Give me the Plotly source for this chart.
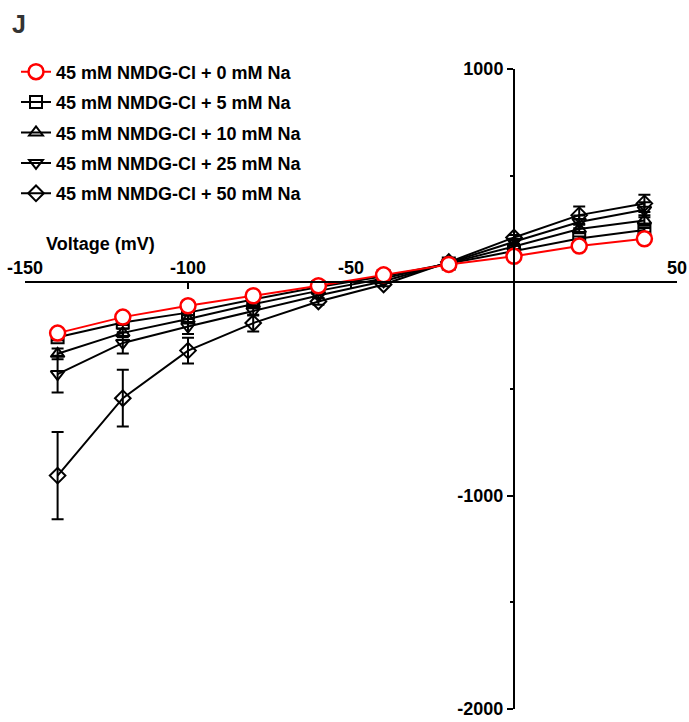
import plotly.graph_objects as go

voltage = [-140, -120, -100, -80, -60, -40, -20, 0, 20, 40]

labels = [
    "45 mM NMDG-Cl + 0 mM Na",
    "45 mM NMDG-Cl + 5 mM Na",
    "45 mM NMDG-Cl + 10 mM Na",
    "45 mM NMDG-Cl + 25 mM Na",
    "45 mM NMDG-Cl + 50 mM Na",
]

na0 = [-238, -163, -110, -63, -16, 35, 84, 122, 170, 204]
na5 = [-257, -188, -142, -80, -22, 28, 88, 145, 205, 245]
na10 = [-335, -237, -172, -102, -40, 18, 90, 168, 250, 290]
na25 = [-430, -284, -207, -135, -62, 5, 92, 190, 283, 340]
na50 = [-906, -543, -320, -191, -90, -10, 95, 210, 315, 370]

err0 = [12, 10, 10, 8, 8, 6, 6, 8, 8, 8]
err5 = [15, 12, 12, 10, 8, 6, 10, 10, 10, 10]
err10 = [25, 20, 18, 12, 10, 8, 8, 12, 20, 25]
err25 = [86, 50, 35, 20, 12, 8, 8, 12, 30, 35]
err50 = [205, 133, 60, 39, 15, 8, 10, 12, 40, 40]

x_ticks = [-150, -100, -50, 0, 50]
x_ticktext = ["-150", "-100", "-50", "", "50"]
y_ticks = [-2000, -1000, 0, 1000]
y_ticktext = ["-2000", "-1000", "", "1000"]
y_minor = [-1500, -500, 500]

FONT = "Liberation Sans, Arial, sans-serif"
W, H = 689, 722
# plot box in page pixels
PX_L, PX_R, PX_T, PX_B = 25, 677, 69, 709
XR = [-150, 50]
YR = [-2000, 1000]

x_dom = [PX_L / W, PX_R / W]
y_dom = [1 - PX_B / H, 1 - PX_T / H]
x_axis_pos = y_dom[0] + (0 - YR[0]) / (YR[1] - YR[0]) * (y_dom[1] - y_dom[0])
y_axis_pos = x_dom[0] + (0 - XR[0]) / (XR[1] - XR[0]) * (x_dom[1] - x_dom[0])

series = [
    (labels[1], na5, err5, "square-open", "black", 2),
    (labels[2], na10, err10, "triangle-up-open", "black", 3),
    (labels[3], na25, err25, "triangle-down-open", "black", 4),
    (labels[4], na50, err50, "diamond-open", "black", 5),
    (labels[0], na0, err0, "circle", "red", 1),
]

fig = go.Figure()
for name, vals, errs, sym, col, rank in series:
    is_red = col == "red"
    fig.add_trace(go.Scatter(
        x=voltage, y=vals, name=name, mode="lines+markers",
        legendrank=rank, legendgroup=name,
        line=dict(color=col, width=2),
        marker=dict(symbol=sym, size=15 if is_red else 12,
                    color="white" if is_red else col,
                    line=dict(color=col, width=2.5 if is_red else 2)),
        error_y=dict(type="data", array=errs, visible=True,
                     color="black", thickness=2, width=6),
        cliponaxis=False,
    ))

fig.update_layout(
    width=W, height=H,
    margin=dict(l=0, r=0, t=0, b=0, autoexpand=False),
    paper_bgcolor="white", plot_bgcolor="white",
    font=dict(family=FONT, size=18, color="black"),
    showlegend=True,
    legend=dict(
        x=16 / W, y=1 - 53.5 / H, xanchor="left", yanchor="top",
        font=dict(family=FONT, size=18, color="black", weight="bold"),
        bgcolor="rgba(0,0,0,0)", traceorder="grouped", tracegroupgap=4,
        itemwidth=30,
    ),
    xaxis=dict(
        range=XR, domain=x_dom, anchor="free", position=x_axis_pos, side="top",
        automargin=False, ticklabeloverflow="allow",
        showline=True, linecolor="black", linewidth=2,
        ticks="inside", ticklen=6, tickwidth=2, tickcolor="black",
        tickvals=x_ticks, ticktext=x_ticktext,
        tickfont=dict(family=FONT, size=18, color="black", weight="bold"),
        showgrid=False, zeroline=False,
    ),
    yaxis=dict(
        range=YR, domain=y_dom, anchor="free", position=y_axis_pos, side="left",
        automargin=False, ticklabeloverflow="allow",
        showline=True, linecolor="black", linewidth=2,
        ticks="outside", ticklen=6, tickwidth=2, tickcolor="black",
        tickvals=y_ticks, ticktext=y_ticktext,
        minor=dict(tickvals=y_minor, ticks="outside", ticklen=3,
                   tickwidth=2, tickcolor="black"),
        tickfont=dict(family=FONT, size=18, color="black", weight="bold"),
        showgrid=False, zeroline=False,
    ),
    annotations=[
        dict(text="<b>J</b>", xref="paper", yref="paper", x=10 / W,
             y=1 - 24 / H,
             xanchor="left", yanchor="middle", showarrow=False,
             font=dict(family=FONT, size=25, color="#333333")),
        dict(text="<b>Voltage (mV)</b>", xref="x", yref="y", x=-126.7, y=180,
             xanchor="center", yanchor="middle", showarrow=False,
             font=dict(family=FONT, size=18, color="black")),
        dict(text="<b>Current (nA)</b>", xref="x", yref="y", x=21.2, y=1034,
             xanchor="center", yanchor="middle", showarrow=False,
             font=dict(family=FONT, size=18, color="black")),
    ],
)

fig.write_html(
    "out.html",
    config={"displayModeBar": False},
    post_script="document.body.style.margin='0';document.body.style.overflow='hidden';",
)
